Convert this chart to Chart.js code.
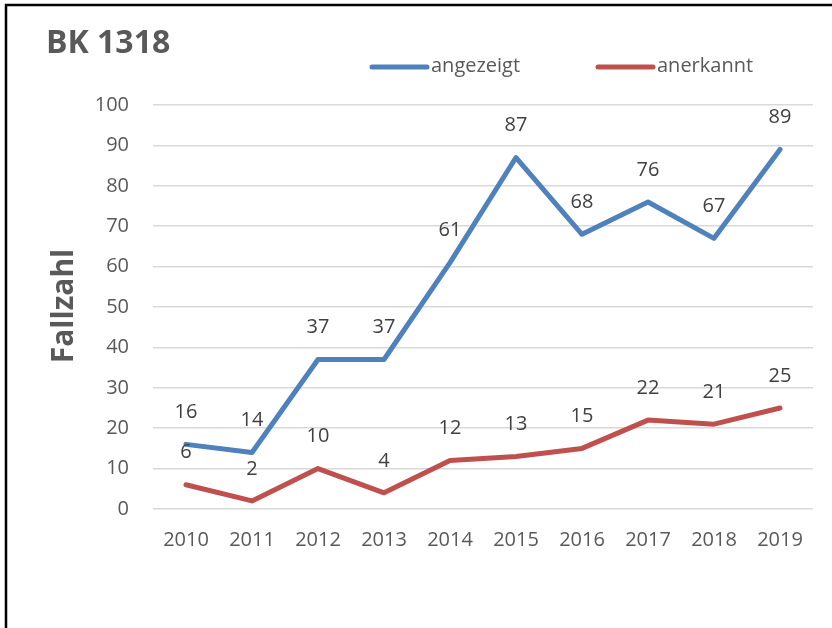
<!DOCTYPE html>
<html>
<head>
<meta charset="utf-8">
<script src="https://cdn.jsdelivr.net/npm/chart.js@4.4.0/dist/chart.umd.min.js"></script>
<style>
  html, body { margin: 0; padding: 0; background: #fff; }
  #wrap { position: relative; width: 832px; height: 628px; }
</style>
</head>
<body>
<div id="wrap"><canvas id="c" width="832" height="628"></canvas></div>
<script>
const chartTitle = "BK 1318";
const yAxisTitle = "Fallzahl";
const years = ["2010", "2011", "2012", "2013", "2014", "2015", "2016", "2017", "2018", "2019"];
const angezeigt = [16, 14, 37, 37, 61, 87, 68, 76, 67, 89];
const anerkannt = [6, 2, 10, 4, 12, 13, 15, 22, 21, 25];
const seriesNames = ["angezeigt", "anerkannt"];
const seriesColors = ["#4F81BD", "#C0504D"];

const FONT = "'Open Sans', 'DejaVu Sans', sans-serif";
const TEXT = "#595959";

const decor = {
  id: "decor",
  beforeDraw(chart) {
    const ctx = chart.ctx;
    ctx.save();
    ctx.fillStyle = "#fff";
    ctx.fillRect(0, 0, chart.width, chart.height);
    ctx.strokeStyle = "#000";
    ctx.lineWidth = 2.5;
    ctx.beginPath();
    ctx.moveTo(6, chart.height + 2);
    ctx.lineTo(6, 5);
    ctx.lineTo(chart.width + 2, 5);
    ctx.stroke();
    ctx.restore();
  },
  afterDraw(chart) {
    const ctx = chart.ctx;
    ctx.save();
    // title
    ctx.fillStyle = TEXT;
    ctx.font = "bold 32px " + FONT;
    ctx.textAlign = "left";
    ctx.textBaseline = "middle";
    ctx.fillText(chartTitle, 46, 44);
    // y axis title
    ctx.save();
    ctx.font = "bold 30px " + FONT;
    ctx.translate(64, 306);
    ctx.rotate(-Math.PI / 2);
    ctx.textAlign = "center";
    ctx.fillText(yAxisTitle, 0, 0);
    ctx.restore();
    // legend
    const legendX = [372, 598];
    ctx.font = "20px " + FONT;
    chart.data.datasets.forEach((ds, i) => {
      ctx.strokeStyle = ds.borderColor;
      ctx.lineWidth = 5;
      ctx.lineCap = "round";
      ctx.beginPath();
      ctx.moveTo(legendX[i], 67);
      ctx.lineTo(legendX[i] + 55, 67);
      ctx.stroke();
      ctx.fillStyle = TEXT;
      ctx.textAlign = "left";
      ctx.fillText(ds.label, legendX[i] + 59, 66);
    });
    // data labels
    ctx.font = "20px " + FONT;
    ctx.fillStyle = "#404040";
    ctx.textAlign = "center";
    ctx.textBaseline = "middle";
    chart.data.datasets.forEach((ds, i) => {
      const meta = chart.getDatasetMeta(i);
      meta.data.forEach((pt, j) => {
        ctx.fillText(String(ds.data[j]), pt.x, pt.y - 32);
      });
    });
    ctx.restore();
  }
};

new Chart(document.getElementById("c"), {
  type: "line",
  data: {
    labels: years,
    datasets: [
      { label: seriesNames[0], data: angezeigt, borderColor: seriesColors[0], backgroundColor: seriesColors[0],
        borderWidth: 5, pointRadius: 0, tension: 0, borderJoinStyle: "round", borderCapStyle: "round" },
      { label: seriesNames[1], data: anerkannt, borderColor: seriesColors[1], backgroundColor: seriesColors[1],
        borderWidth: 5, pointRadius: 0, tension: 0, borderJoinStyle: "round", borderCapStyle: "round" }
    ]
  },
  options: {
    responsive: false,
    animation: false,
    devicePixelRatio: 1,
    layout: { padding: { left: 0, right: 19, top: 105, bottom: 0 } },
    plugins: { legend: { display: false }, title: { display: false }, tooltip: { enabled: false } },
    scales: {
      x: {
        offset: true,
        grid: { display: false, drawTicks: false },
        border: { display: false },
        ticks: { color: TEXT, font: { family: FONT, size: 20 }, padding: 19, maxRotation: 0, autoSkip: false },
        afterFit(s) { s.height = 119; }
      },
      y: {
        min: 0, max: 100,
        grid: { color: "#D9D9D9", lineWidth: 1.5, drawTicks: false },
        border: { display: false },
        ticks: { stepSize: 10, color: TEXT, font: { family: FONT, size: 20 }, padding: 24 },
        afterFit(s) { s.width = 153; }
      }
    }
  },
  plugins: [decor]
});
</script>
</body>
</html>
